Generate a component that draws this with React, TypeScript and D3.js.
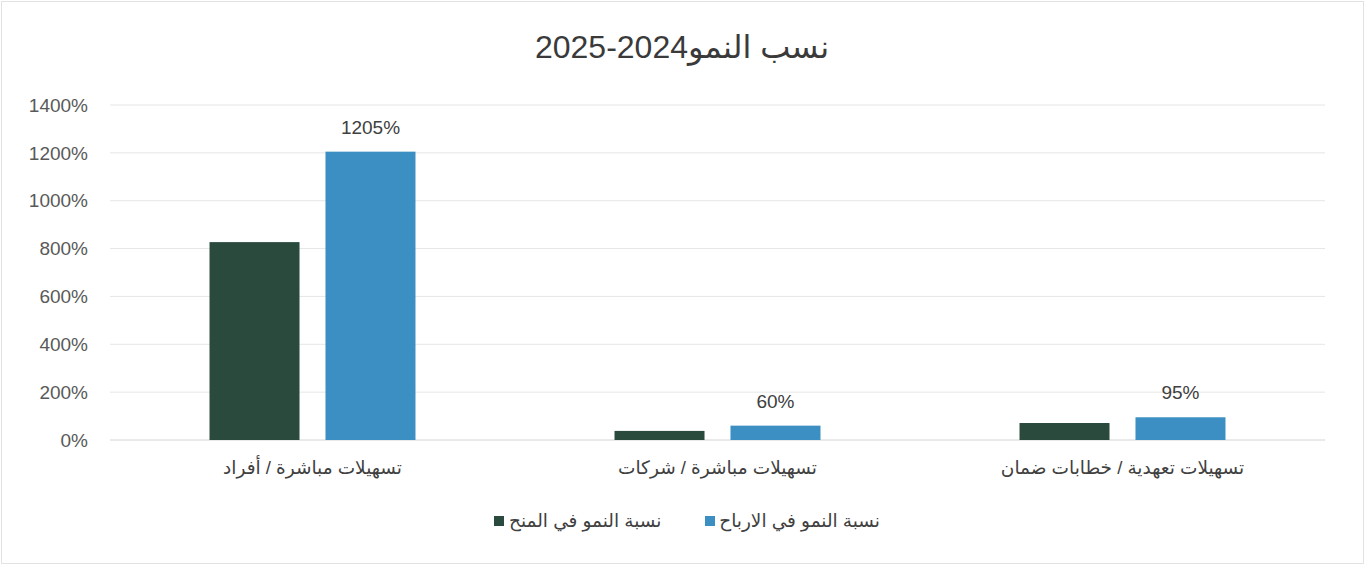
import React from "react";
import * as d3 from "d3";

const categories = [
  "تسهيلات مباشرة / أفراد",
  "تسهيلات مباشرة / شركات",
  "تسهيلات تعهدية / خطابات ضمان",
];
const seriesNames = ["نسبة النمو في المنح", "نسبة النمو في الارباح"];
const grantsGrowth = [827, 38, 71];
const profitGrowth = [1205, 60, 95];
const yTicks = [0, 200, 400, 600, 800, 1000, 1200, 1400];
const title = "نسب النمو2024-2025";
const colors = ["#2b4a3e", "#3b8fc2"];

const W = 1365;
const H = 565;
const FONT = "'Liberation Sans', 'DejaVu Sans', Arial, sans-serif";

export default function App() {
  const x0 = d3.scaleBand<string>().domain(categories).range([110, 1325]).padding(0);
  const x1 = d3
    .scaleBand<number>()
    .domain([0, 1])
    .range([0, x0.bandwidth()])
    .paddingInner(0.224)
    .paddingOuter(0.858);
  const y = d3.scaleLinear().domain([0, 1400]).range([440, 105]);
  const series = [grantsGrowth, profitGrowth];

  return (
    <svg
      width={W}
      height={H}
      style={{ position: "absolute", left: 0, top: 0, background: "#fff" }}
      fontFamily={FONT}
    >
      <rect x={1.5} y={1.5} width={W - 3} height={H - 3} fill="#fff" stroke="#e2e2e2" />
      <text x={682} y={58} textAnchor="middle" fontSize={32} fill="#3a3a3a">
        {title}
      </text>
      {yTicks.map((t) => (
        <g key={t}>
          <line x1={110} x2={1325} y1={y(t)} y2={y(t)} stroke={t === 0 ? "#d4d4d4" : "#e6e6e6"} strokeWidth={1} />
          <text x={88} y={y(t)} dy="0.35em" textAnchor="end" fontSize={19} fill="#595959">
            {d3.format("d")(t)}%
          </text>
        </g>
      ))}
      {categories.map((c, i) => (
        <g key={c} transform={`translate(${x0(c)},0)`}>
          {series.map((s, k) => (
            <rect
              key={k}
              x={x1(k)}
              y={y(s[i])}
              width={x1.bandwidth()}
              height={y(0) - y(s[i])}
              fill={colors[k]}
            />
          ))}
          <text
            x={(x1(1) as number) + x1.bandwidth() / 2}
            y={y(profitGrowth[i]) - 18}
            textAnchor="middle"
            fontSize={19}
            fill="#404040"
          >
            {profitGrowth[i]}%
          </text>
          <text
            x={x0.bandwidth() / 2}
            y={474}
            textAnchor="middle"
            fontSize={18.5}
            fill="#404040"
            direction="rtl"
          >
            {c}
          </text>
        </g>
      ))}
      {/* legend */}
      <rect x={494} y={516} width={10} height={10} fill={colors[0]} />
      <text x={509} y={527} textAnchor="end" direction="rtl" fontSize={18.5} fill="#404040">
        {seriesNames[0]}
      </text>
      <rect x={705} y={516} width={10} height={10} fill={colors[1]} />
      <text x={880} y={527} textAnchor="start" direction="rtl" fontSize={18.5} fill="#404040">
        {seriesNames[1]}
      </text>
    </svg>
  );
}
